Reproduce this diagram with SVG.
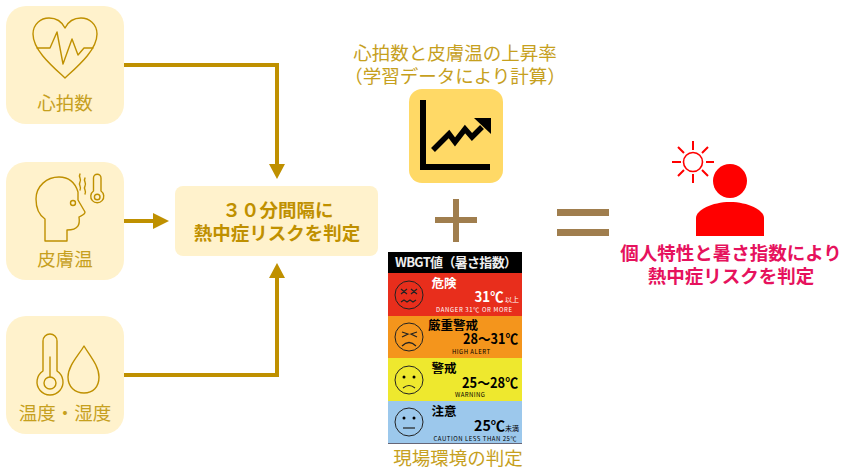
<svg xmlns="http://www.w3.org/2000/svg" width="843" height="470" viewBox="0 0 843 470">
<style>
text{font-family:"Noto Sans CJK JP","Noto Sans",sans-serif;text-anchor:middle}
.box{fill:#FFF2CC}
.lab{font-size:18.500px;fill:#C6A01E}
.ico{fill:none;stroke:#BF9000;stroke-width:1.400;stroke-linejoin:round;stroke-linecap:round}
.conn{fill:none;stroke:#BF9000;stroke-width:4;stroke-linejoin:miter}
.hd{fill:#BF9000}
.bold{font-size:18.500px;font-weight:700;fill:#BF9000}
.red{font-size:18.500px;font-weight:700;fill:#E6125D}
.sym{fill:#A07E4E}
.face{fill:none;stroke:#222;stroke-width:1}
.f{stroke:#222;stroke-width:1.200;fill:none}
.ray{stroke:#f00;stroke-width:2;fill:none}
.jp{font-weight:700;font-size:12.500px}
.en{font-size:6px}
.tmp{font-weight:700;font-size:14px}
</style>
<g id="connectors">
<path class="conn" d="M124 65H277V166"/>
<polygon class="hd" points="269,164 285,164 277,179"/>
<path class="conn" d="M123 221H155"/>
<polygon class="hd" points="153,213 169,221 153,229"/>
<path class="conn" d="M124 375H277V276"/>
<polygon class="hd" points="269,278 285,278 277,263"/>
</g>
<g id="node-heart">
<rect class="box" x="6" y="6" width="118" height="118" rx="20"/>
<path class="ico" d="M65 78C52 66 33 50 33 34C33 24 41 18 49 18C56 18 62 22 65 28C68 22 74 18 81 18C89 18 97 24 97 34C97 50 78 66 65 78Z"/>
<path class="ico" d="M37 48H50L57 32L63 64L72 39L78 55L84 48H93"/>
<text class="lab" x="65" y="110">心拍数</text>
</g>
<g id="node-skin">
<rect class="box" x="6" y="162" width="118" height="118" rx="20"/>
<path class="ico" d="M45 241V219C39 215 36 208 36 199C36 186 47 177 59 177C68 177 75 182 78 192L78 200L85 212C85 215 80 216 79 217C80 224 79 230 67 230V241H45Z"/>
<circle class="ico" cx="73" cy="203" r="2.500"/>
<path class="ico" d="M80 174c-2 3 2 5 0 8s2 5 0 8M85 178c-2 3 2 5 0 8s2 5 0 8"/>
<path class="ico" d="M93.500 178a3.750 3.750 0 0 1 7.500 0V191a6.500 6.500 0 1 1-7.500 0Z"/>
<circle class="ico" cx="97.200" cy="197" r="2.800"/>
<text class="lab" x="65" y="266">皮膚温</text>
</g>
<g id="node-humidity">
<rect class="box" x="6" y="316" width="118" height="118" rx="20"/>
<path class="ico" d="M43 341a7 7 0 0 1 14 0V371a13 13 0 1 1-14 0Z"/>
<circle class="ico" cx="50" cy="383" r="6"/>
<path class="ico" d="M50 357V377"/>
<path class="ico" d="M84 346C78 356 68 366 68 377C68 387 75 393 84 393C93 393 99 387 99 377C99 366 90 356 84 346Z"/>
<text class="lab" x="65" y="420">温度・湿度</text>
</g>
<g id="node-judge">
<rect class="box" x="175" y="186" width="203" height="70" rx="8"/>
<text class="bold" x="278" y="217">３０分間隔に</text>
<text class="bold" x="277" y="240">熱中症リスクを判定</text>
</g>
<g id="node-learning">
<text class="lab" x="455" y="60">心拍数と皮膚温の上昇率</text>
<text class="lab" x="455" y="83">（学習データにより計算）</text>
<rect x="409" y="89" width="94" height="94" rx="13" fill="#FFD966"/>
<path d="M423 100V167H490" fill="none" stroke="#000" stroke-width="6"/>
<path d="M433 150L449 134L455 142L465 129L472 137L482 127" fill="none" stroke="#000" stroke-width="5.500"/>
<polygon points="474,118 491,118 491,134"/>
</g>
<g id="plus"><path class="sym" d="M453 199h6v18h18v6h-18v19h-6v-19h-18v-6h18z"/></g>
<g id="equals"><rect class="sym" x="557" y="209" width="52" height="7"/><rect class="sym" x="557" y="229" width="52" height="7"/></g>
<g id="node-wbgt">
<rect x="388" y="252" width="134" height="21"/>
<rect x="388" y="273" width="134" height="43" fill="#E82E1C"/>
<rect x="388" y="316" width="134" height="42" fill="#F4951C"/>
<rect x="388" y="358" width="134" height="43" fill="#EEE82E"/>
<rect x="388" y="401" width="134" height="42" fill="#9CC8EC"/>
<rect x="388" y="443" width="134" height="1" fill="#667"/>
<text x="456" y="267" fill="#eee" font-size="13" font-weight="700" textLength="122">WBGT値（暑さ指数）</text>
<circle class="face" cx="409" cy="295" r="14"/>
<path class="f" d="M401 289l6 5m0-5l-6 5M411 289l6 5m0-5l-6 5M401 302l3-2 3 2 3-2 3 2 3-2"/>
<text class="jp" x="444" y="288" fill="#fff">危険</text>
<text class="tmp" x="489" y="302" fill="#fff" textLength="29" lengthAdjust="spacingAndGlyphs">31℃</text>
<text x="512" y="302" fill="#fff" font-size="7">以上</text>
<text class="en" x="474" y="312" fill="#fff" textLength="76">DANGER 31℃ OR MORE</text>
<circle class="face" cx="409" cy="337" r="14"/>
<path class="f" d="M402 332l6 2-6 3M417 332l-6 2 6 3M402 346q7-7 14 0"/>
<text class="jp" x="453" y="330">厳重警戒</text>
<text class="tmp" x="490.500" y="344" textLength="55" lengthAdjust="spacingAndGlyphs">28～31℃</text>
<text class="en" x="471" y="354" textLength="38">HIGH ALERT</text>
<circle class="face" cx="409" cy="380" r="14"/>
<circle cx="404" cy="377" r="1.500"/><circle cx="414" cy="377" r="1.500"/>
<path class="f" d="M403 388q6-5 12 0"/>
<text class="jp" x="444" y="373">警戒</text>
<text class="tmp" x="490" y="388" textLength="56" lengthAdjust="spacingAndGlyphs">25～28℃</text>
<text class="en" x="470" y="397" textLength="30">WARNING</text>
<circle class="face" cx="409" cy="422" r="14"/>
<circle cx="404" cy="418" r="1.500"/><circle cx="414" cy="418" r="1.500"/>
<path class="f" d="M403 428h12"/>
<text class="jp" x="444" y="416">注意</text>
<text class="tmp" x="489.500" y="431" textLength="31" lengthAdjust="spacingAndGlyphs">25℃</text>
<text x="512" y="431" font-size="7">未満</text>
<text class="en" x="475" y="441" textLength="83">CAUTION LESS THAN 25℃</text>
<text class="lab" x="458" y="465">現場環境の判定</text>
</g>
<g id="node-result">
<circle cx="693" cy="162" r="9.500" fill="none" stroke="#f00" stroke-width="1.600"/>
<path class="ray" d="M693 141V150M693 174V183M672 162H681M706 162H714M678 147L684 153M708 147L702 153M678 176L684 170M708 176L702 170"/>
<circle cx="730" cy="181" r="17" fill="#f00"/>
<path fill="#f00" d="M696 236V218C696 210 712 202 730 202C748 202 764 210 764 218V236Z"/>
<text class="red" x="731" y="260">個人特性と暑さ指数により</text>
<text class="red" x="731" y="283">熱中症リスクを判定</text>
</g>
</svg>
